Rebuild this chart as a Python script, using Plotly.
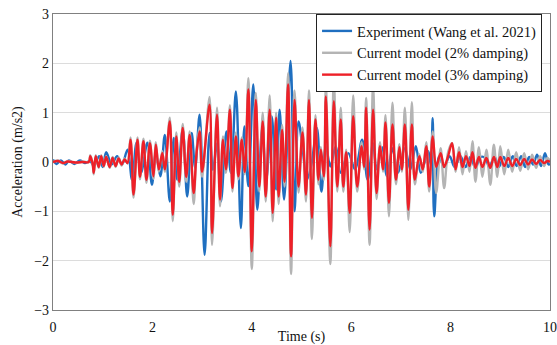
import plotly.graph_objects as go

# Experiment (Wang et al. 2021) - extrema of the recorded signal
t_exp = [0.0, 0.07, 0.16, 0.25, 0.32, 0.43, 0.54, 0.64, 0.75, 0.82, 0.93, 1.0, 1.07, 1.18, 1.29, 1.39,
         1.5, 1.59, 1.68, 1.77, 1.9, 1.99, 2.07, 2.16, 2.25, 2.35, 2.43, 2.5, 2.61, 2.7, 2.79, 2.86,
         2.95, 3.05, 3.15, 3.22, 3.3, 3.38, 3.49, 3.58, 3.68, 3.78, 3.85, 3.93, 4.03, 4.11, 4.21, 4.29,
         4.4, 4.49, 4.56, 4.65, 4.78, 4.86, 4.94, 5.03, 5.11, 5.2, 5.31, 5.4, 5.49, 5.58, 5.69, 5.79,
         5.94, 6.08, 6.22, 6.33, 6.44, 6.51, 6.62, 6.72, 6.83, 6.94, 7.08, 7.19, 7.3, 7.4, 7.55, 7.6,
         7.64, 7.67, 7.77, 7.87, 7.98, 8.08, 8.2, 8.3, 8.4, 8.5, 8.6, 8.7, 8.78, 8.88, 8.97, 9.07,
         9.16, 9.25, 9.33, 9.42, 9.5, 9.58, 9.66, 9.74, 9.82, 9.9, 9.97, 10.0]
v_exp = [0.05, -0.04, 0.03, -0.05, 0.03, -0.04, 0.03, -0.02, 0.02, -0.08, 0.12, -0.1, 0.2, -0.05, 0.12, -0.05,
         0.25, -0.36, 0.39, -0.22, 0.39, -0.46, 0.18, -0.29, 0.55, -0.8, 0.49, -0.36, 0.66, -0.7, 0.59, -0.12,
         0.96, -1.88, 0.59, -0.16, 0.38, -0.8, 0.62, -0.22, 1.43, -1.34, 0.72, -0.49, 1.57, -0.97, 0.69, -0.36,
         0.93, -0.56, 1.06, -0.76, 2.05, -1.0, 0.82, 0.2, -0.36, -0.05, 0.69, -0.6, 0.32, -0.09, 0.32, -0.22,
         0.18, -0.15, 0.45, -0.36, 0.38, -0.15, 0.3, -0.29, 0.28, -0.22, 0.28, -0.15, 0.32, -0.22, 0.22, -0.05,
         0.89, -1.1, 0.12, -0.1, 0.12, -0.1, 0.12, -0.1, 0.1, -0.12, 0.1, 0.08, -0.12, 0.12, -0.1, 0.1,
         -0.1, 0.12, -0.08, 0.12, -0.1, 0.1, -0.05, 0.15, -0.08, 0.18, -0.05, -0.03]

# Current model time points (shared by 2% and 3% damping runs)
t_mod = [0.0, 0.1, 0.2, 0.3, 0.45, 0.6, 0.72, 0.75, 0.8, 0.82, 0.86, 0.92, 0.97, 1.02, 1.07, 1.14,
         1.2, 1.26, 1.32, 1.38, 1.44, 1.5, 1.56, 1.62, 1.7, 1.75, 1.82, 1.88, 1.95, 2.02, 2.07, 2.13,
         2.2, 2.25, 2.35, 2.41, 2.48, 2.54, 2.61, 2.68, 2.75, 2.83, 2.89, 2.95, 3.0, 3.15, 3.2, 3.3,
         3.36, 3.42, 3.48, 3.56, 3.61, 3.68, 3.73, 3.8, 3.86, 3.93, 4.0, 4.08, 4.15, 4.22, 4.28, 4.36,
         4.42, 4.49, 4.54, 4.61, 4.66, 4.73, 4.79, 4.86, 4.94, 5.02, 5.09, 5.15, 5.21, 5.28, 5.34, 5.39,
         5.45, 5.49, 5.58, 5.65, 5.72, 5.79, 5.84, 5.9, 5.97, 6.04, 6.12, 6.21, 6.26, 6.3, 6.37, 6.44,
         6.51, 6.58, 6.64, 6.69, 6.76, 6.83, 6.9, 6.97, 7.02, 7.08, 7.15, 7.22, 7.28, 7.37, 7.44, 7.51,
         7.57, 7.64, 7.71, 7.8, 7.87, 7.95, 8.03, 8.1, 8.17, 8.24, 8.31, 8.38, 8.44, 8.5, 8.57, 8.64,
         8.72, 8.8, 8.87, 8.94, 9.0, 9.08, 9.16, 9.24, 9.32, 9.4, 9.48, 9.56, 9.64, 9.72, 9.8, 9.88,
         9.95, 10.0]
# 2% damping
v_2pct = [0.0, 0.03, -0.03, 0.02, -0.02, 0.01, 0.0, 0.14, -0.06, -0.25, 0.14, -0.12, 0.14, -0.1, 0.12, -0.12,
          0.1, -0.1, 0.09, -0.07, 0.07, -0.03, 0.5, -0.72, 0.5, -0.35, 0.47, -0.42, 0.43, -0.34, 0.4, -0.2,
          0.22, -0.2, 0.9, -1.2, 0.6, -0.5, 0.77, -0.4, 0.62, -0.85, 0.25, 0.7, -0.3, 1.32, -1.68, 1.1,
          -0.9, 0.52, -0.22, 1.15, -0.6, 0.6, -0.35, 0.5, -0.25, 1.7, -2.17, 1.4, -0.6, 1.0, -0.8, 1.35,
          -1.2, 1.0, -0.85, 0.75, -0.5, 1.8, -2.27, 1.45, -0.62, 0.7, -0.8, 1.45, -1.56, 0.95, -0.45, 0.3,
          -0.36, 1.55, -2.07, 1.68, -0.6, 1.1, -0.6, 0.25, -1.42, 1.35, -0.6, 0.4, -0.15, 1.3, -1.68, 1.55,
          -0.75, 0.4, -0.2, 0.95, -1.1, 1.2, -0.45, 0.36, -0.2, 1.1, -1.17, 1.21, -0.45, 0.16, -0.2, 0.4,
          -0.6, 0.62, -0.63, 0.28, -0.53, 0.2, 0.38, -0.2, 0.3, -0.25, 0.22, -0.2, 0.42, -0.4, 0.3, -0.3,
          0.25, -0.46, 0.35, -0.3, 0.32, -0.25, 0.25, -0.2, 0.2, -0.18, 0.18, -0.15, 0.15, -0.12, 0.12, -0.08,
          0.08, 0.02]
# 3% damping
v_3pct = [0.0, 0.02, -0.02, 0.01, -0.01, 0.0, 0.0, 0.12, -0.05, -0.22, 0.12, -0.1, 0.12, -0.08, 0.1, -0.1,
          0.08, -0.08, 0.07, -0.05, 0.05, -0.02, 0.45, -0.66, 0.45, -0.3, 0.42, -0.36, 0.38, -0.29, 0.35, -0.15,
          0.18, -0.15, 0.82, -1.07, 0.52, -0.4, 0.69, -0.3, 0.55, -0.63, 0.2, 0.62, -0.2, 1.16, -1.44, 0.96,
          -0.76, 0.45, -0.15, 1.06, -0.53, 0.52, -0.29, 0.45, -0.2, 1.47, -1.81, 1.26, -0.5, 0.82, -0.7, 1.06,
          -1.03, 0.9, -0.7, 0.65, -0.4, 1.57, -1.91, 1.26, -0.5, 0.6, -0.66, 1.26, -1.13, 0.86, -0.36, 0.25,
          -0.29, 1.33, -1.71, 1.23, -0.5, 0.86, -0.5, 0.2, -1.03, 0.93, -0.5, 0.32, -0.1, 1.1, -1.37, 1.06,
          -0.63, 0.32, -0.15, 0.8, -0.83, 0.76, -0.36, 0.3, -0.15, 0.76, -0.97, 0.76, -0.36, 0.12, -0.15, 0.32,
          -0.5, 0.52, -0.1, 0.18, -0.1, 0.12, 0.38, -0.15, 0.2, -0.1, 0.12, -0.08, 0.2, -0.12, 0.1, -0.1,
          0.08, -0.12, 0.1, -0.1, 0.1, -0.08, 0.08, -0.08, 0.06, -0.06, 0.06, -0.05, 0.05, -0.04, 0.04, -0.02,
          0.02, 0.0]

x_ticks = [0, 2, 4, 6, 8, 10]
y_ticks = [-3, -2, -1, 0, 1, 2, 3]

FONT = "Liberation Serif, Times New Roman, serif"

fig = go.Figure()
fig.add_trace(go.Scatter(x=t_exp, y=v_exp, mode="lines", name="Experiment (Wang et al. 2021)",
                         line=dict(color="#1f6fc0", width=2.4, shape="spline", smoothing=1.0)))
fig.add_trace(go.Scatter(x=t_mod, y=v_2pct, mode="lines", name="Current model (2% damping)",
                         line=dict(color="#b4b4b4", width=2.4, shape="spline", smoothing=1.0)))
fig.add_trace(go.Scatter(x=t_mod, y=v_3pct, mode="lines", name="Current model (3% damping)",
                         line=dict(color="#ee2028", width=2.4, shape="spline", smoothing=1.0)))

fig.update_layout(
    width=557, height=345,
    margin=dict(l=53, r=7, t=14, b=35),
    paper_bgcolor="white", plot_bgcolor="white",
    font=dict(family=FONT, size=14, color="#111111"),
    legend=dict(x=0.984, y=1.0, xanchor="right", yanchor="top",
                bordercolor="#222222", borderwidth=1, bgcolor="white",
                font=dict(family=FONT, size=14.5), tracegroupgap=0,
                itemwidth=30),
    xaxis=dict(range=[0, 10], tickvals=x_ticks, showgrid=False, zeroline=False,
               showline=True, linecolor="#808080", linewidth=1.2, mirror=True,
               ticks="", tickfont=dict(family=FONT, size=14), automargin=False,
               ticklabelstandoff=4,
               title=dict(text="Time (s)", standoff=1, font=dict(family=FONT, size=14))),
    yaxis=dict(range=[-3, 3], tickvals=y_ticks, showgrid=True, gridcolor="#dcdcdc", gridwidth=1,
               zeroline=False, showline=True, linecolor="#808080", linewidth=1.2, mirror=True,
               ticks="", tickfont=dict(family=FONT, size=14), automargin=False,
               title=dict(text="Acceleration (m/s2)", standoff=8, font=dict(family=FONT, size=14))),
)

fig.write_html("out.html")
